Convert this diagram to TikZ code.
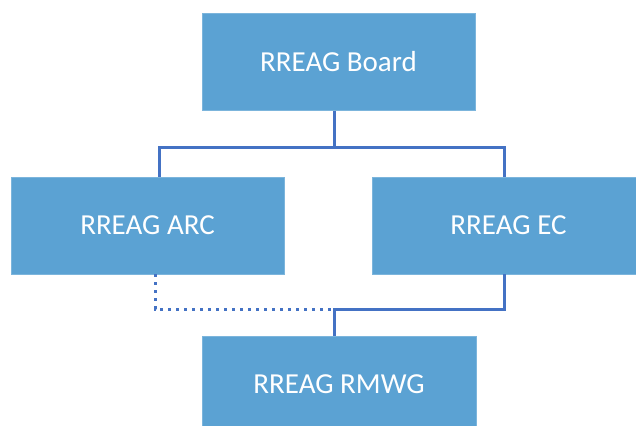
\documentclass[tikz,border=0pt]{standalone}
\usepackage{fontspec}
\setmainfont{Carlito}
\definecolor{boxfill}{RGB}{91,162,211}
\definecolor{linecol}{RGB}{68,114,196}
\begin{document}
\begin{tikzpicture}[x=1pt,y=-1pt,
  orgbox/.style={rectangle,fill=boxfill,draw=boxfill!80!white,line width=0.6pt,text=white,
    minimum width=273pt,minimum height=97pt,inner sep=0pt,font=\fontsize{29}{34}\selectfont},
  conn/.style={draw=linecol,line width=3pt,line cap=butt,line join=miter},
  dotconn/.style={draw=linecol,line width=3pt,line cap=butt,dash pattern=on 3pt off 5pt}]
\useasboundingbox (0,0) rectangle (636,425);
\begin{scope}
\clip (0,0) rectangle (636,425);
\node[orgbox] (board) at (338.5,62) {RREAG Board};
\node[orgbox] (arc) at (147.5,225.5) {RREAG ARC};
\node[orgbox] (ec) at (508.5,225.5) {RREAG EC};
\node[orgbox,minimum width=274pt] (rmwg) at (339,384.5) {RREAG RMWG};
\coordinate (j1) at (334,147);
\coordinate (arcin) at (159,0);
\coordinate (ecin) at (504,0);
\coordinate (j2) at (334,309);
\coordinate (arcout) at (155,0);
\draw[conn] (board.south -| j1) -- (j1);
\draw[conn] (arc.north -| arcin) -- (arcin |- j1) -- (ecin |- j1) -- (ec.north -| ecin);
\draw[conn] (ec.south -| ecin) -- (ecin |- j2) -- (j2) -- (rmwg.north -| j2);
\draw[dotconn] (arc.south -| arcout) -- (arcout |- j2) -- (j2);
\end{scope}
\end{tikzpicture}
\end{document}
